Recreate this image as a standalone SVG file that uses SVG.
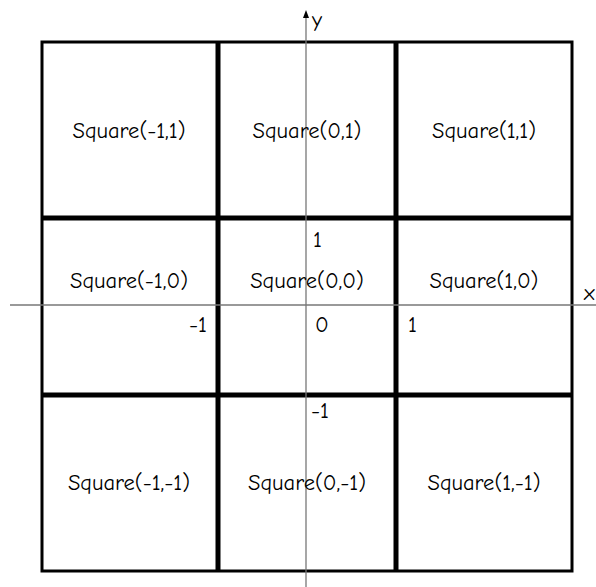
<svg xmlns="http://www.w3.org/2000/svg" width="596" height="587" viewBox="0 0 596 587">
<style>
.lbl{font-family:"Comic Neue","Comic Sans MS","DejaVu Sans",sans-serif;font-size:22.5px;fill:#000}
.ax{stroke:#777;stroke-width:1.3;fill:none}
.thick{stroke:#000;stroke-width:5;fill:none}
.outer{stroke:#000;stroke-width:3;fill:none}
</style>
<defs>
<marker id="arr" markerWidth="8" markerHeight="8" refX="4" refY="4" orient="auto" markerUnits="userSpaceOnUse">
<path d="M0,1 L8,4 L0,7 Z" fill="#000"/>
</marker>
</defs>
<rect width="596" height="587" fill="#fff"/>
<g id="grid">
<rect class="outer" x="42" y="42" width="530" height="529"/>
<line class="thick" x1="218" y1="42" x2="218" y2="571"/>
<line class="thick" x1="396" y1="42" x2="396" y2="571"/>
<line class="thick" x1="42" y1="218" x2="572" y2="218"/>
<line class="thick" x1="42" y1="395" x2="572" y2="395"/>
</g>
<g id="axes">
<line class="ax" x1="10" y1="305" x2="596" y2="305"/>
<line class="ax" x1="306" y1="587" x2="306" y2="14" marker-end="url(#arr)"/>
<text class="lbl" x="312" y="27" font-size="15">y</text>
<text class="lbl" x="584" y="300" font-size="14">x</text>
</g>
<g id="ticks">
<text class="lbl" x="313" y="247">1</text>
<text class="lbl" x="311" y="418">-1</text>
<text class="lbl" x="207" y="332" text-anchor="end">-1</text>
<text class="lbl" x="315" y="332">0</text>
<text class="lbl" x="408" y="332">1</text>
</g>
<g id="sq_m1_1"><text class="lbl" x="129" y="138" text-anchor="middle">Square(-1,1)</text></g>
<g id="sq_0_1"><text class="lbl" x="307" y="138" text-anchor="middle">Square(0,1)</text></g>
<g id="sq_1_1"><text class="lbl" x="484" y="138" text-anchor="middle">Square(1,1)</text></g>
<g id="sq_m1_0"><text class="lbl" x="129" y="288" text-anchor="middle">Square(-1,0)</text></g>
<g id="sq_0_0"><text class="lbl" x="307" y="288" text-anchor="middle">Square(0,0)</text></g>
<g id="sq_1_0"><text class="lbl" x="484" y="288" text-anchor="middle">Square(1,0)</text></g>
<g id="sq_m1_m1"><text class="lbl" x="129" y="490" text-anchor="middle">Square(-1,-1)</text></g>
<g id="sq_0_m1"><text class="lbl" x="307" y="490" text-anchor="middle">Square(0,-1)</text></g>
<g id="sq_1_m1"><text class="lbl" x="484" y="490" text-anchor="middle">Square(1,-1)</text></g>
</svg>
